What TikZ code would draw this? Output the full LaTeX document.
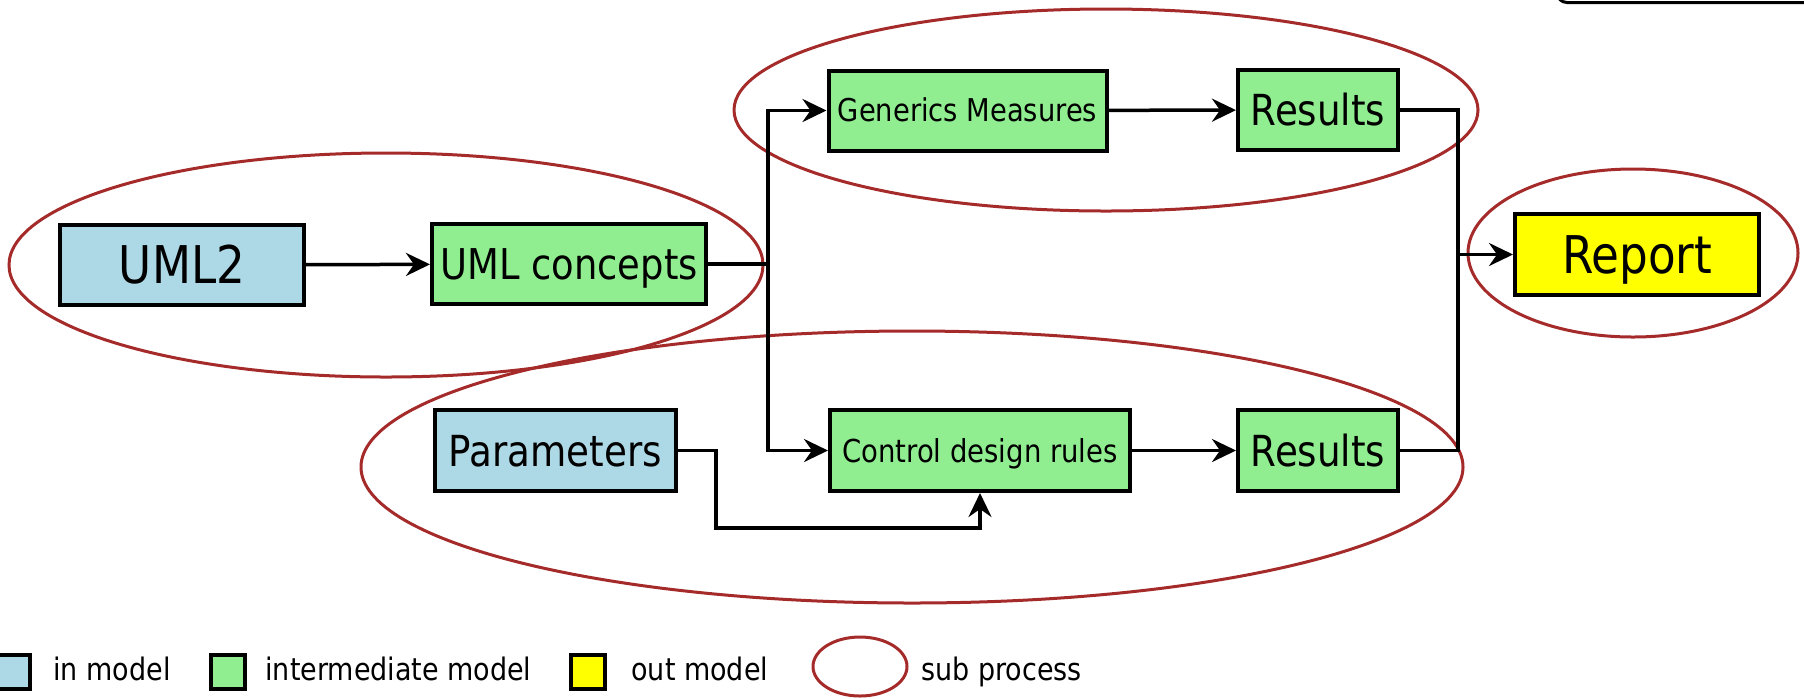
\documentclass[tikz,border=0pt]{standalone}
\usepackage{fontspec}
\setmainfont{DejaVu Sans}[FakeStretch=0.87]
\usetikzlibrary{arrows.meta}
\definecolor{inblue}{RGB}{173,216,230}
\definecolor{midgreen}{RGB}{144,238,144}
\definecolor{outyellow}{RGB}{255,255,0}
\definecolor{subred}{RGB}{165,42,42}
\begin{document}
\begin{tikzpicture}[x=0.5pt,y=-0.5pt,
  box/.style={draw=black, line width=2pt, inner sep=0pt, text depth=0pt},
  inmodel/.style={box, fill=inblue},
  midmodel/.style={box, fill=midgreen},
  outmodel/.style={box, fill=outyellow},
  subproc/.style={draw=subred, line width=1.5pt},
  conn/.style={draw=black, line width=1.75pt},
  arr/.style={conn, -{Stealth[length=12pt,width=11.5pt,inset=4pt]}},
  legsq/.style={draw=black, line width=2pt, inner sep=0pt, minimum size=17pt},
  legtxt/.style={anchor=west, inner sep=0pt, font=\fontsize{15.5}{19}\selectfont, text height=11.8pt, text depth=3.7pt}]
\useasboundingbox (0,0) rectangle (1804,698);

% frame corner in the top right
\draw[line width=1.5pt, rounded corners=5pt] (1557,-30) |- (1830,2.5);

% sub processes
\draw[subproc] (386,265) ellipse [x radius=188.5pt, y radius=56pt];
\draw[subproc] (1106,110) ellipse [x radius=186pt, y radius=50.5pt];
\draw[subproc] (912,467) ellipse [x radius=275.5pt, y radius=68pt];
\draw[subproc] (1633,253) ellipse [x radius=82.5pt, y radius=42pt];

% models (text height = cap height of the font size, so capitals sit centred)
\node[inmodel, minimum width=122pt, minimum height=40pt, font=\fontsize{26}{30}\selectfont, text height=18.95pt] (uml2) at (182,265) {UML2};
\node[midmodel, minimum width=137pt, minimum height=40pt, font=\fontsize{21.2}{25}\selectfont, text height=15.45pt] (concepts) at (569,264) {UML concepts};
\node[midmodel, minimum width=139pt, minimum height=40pt, font=\fontsize{15.7}{19}\selectfont, text height=11.45pt] (generics) at (967.5,110.5) {Generics Measures};
\node[midmodel, minimum width=80pt, minimum height=40pt, font=\fontsize{21.4}{25}\selectfont, text height=15.6pt] (res1) at (1318,110) {Results};
\node[outmodel, minimum width=122pt, minimum height=40.5pt, font=\fontsize{26}{30}\selectfont, text height=18.95pt] (report) at (1637,254.5) {Report};
\node[inmodel, minimum width=120.5pt, minimum height=40.5pt, font=\fontsize{21.4}{25}\selectfont, text height=15.6pt] (params) at (555.5,450.5) {Parameters};
\node[midmodel, minimum width=150pt, minimum height=40.5pt, font=\fontsize{15.8}{19}\selectfont, text height=11.5pt] (control) at (980,450.5) {Control design rules};
\node[midmodel, minimum width=80pt, minimum height=40.5pt, font=\fontsize{21.4}{25}\selectfont, text height=15.6pt] (res2) at (1318,450.5) {Results};

% junction points
\coordinate (jl) at (768,264);
\coordinate (jr) at (1458,254.5);
\coordinate (pb) at (716,528);

% flows
\draw[arr] (uml2) -- (concepts);
\draw[conn] (concepts.east) -- (jl);
\draw[arr] (jl) |- (generics.west);
\draw[arr] (jl) |- (control.west);
\draw[arr] (generics) -- (res1);
\draw[arr] (control) -- (res2);
\draw[conn] (res1.east) -| (jr) |- (res2.east);
\draw[arr] (jr) -- (report.west);
\draw[arr] (params.east) -| (pb) -| (control.south);

% legend
\node[legsq, fill=inblue] (lin) at (13,671.5) {};
\node[legtxt] (tin) at (53,672) {in model};
\node[legsq, fill=midgreen] (lmid) at (227.5,671.5) {};
\node[legtxt] (tmid) at (265,672) {intermediate model};
\node[legsq, fill=outyellow] (lout) at (588,672) {};
\node[legtxt] (tout) at (631,672) {out model};
\draw[subproc] (860,666.5) ellipse [x radius=23.5pt, y radius=14.75pt];
\node[legtxt] (tsub) at (921,672) {sub process};
\end{tikzpicture}
\end{document}
